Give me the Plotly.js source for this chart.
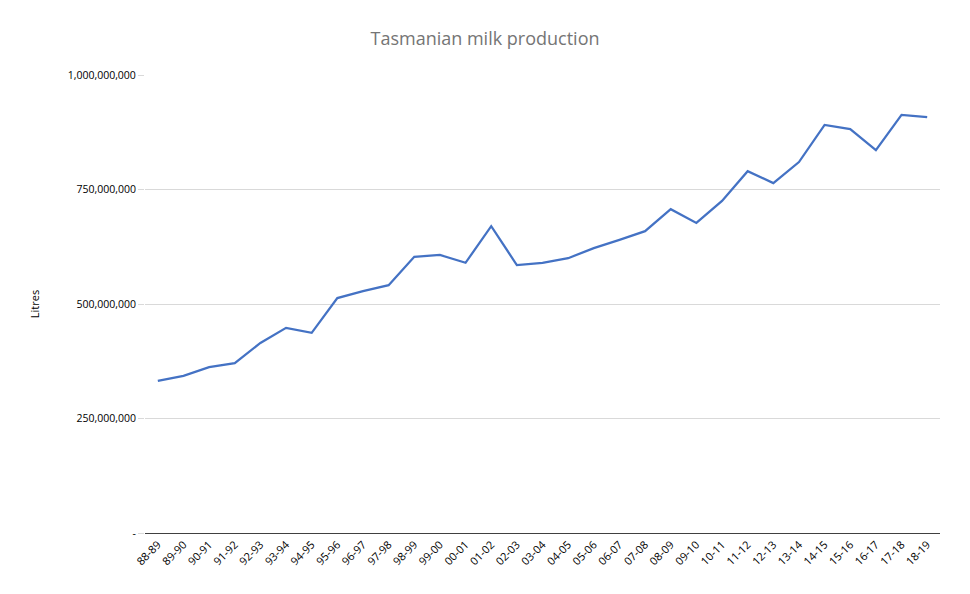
<!DOCTYPE html>
<html>
<head>
<meta charset="utf-8">
<script src="https://cdn.plot.ly/plotly-3.0.1.min.js"></script>
<style>html,body{margin:0;padding:0;background:#fff}#chart{width:970px;height:594px}</style>
</head>
<body>
<div id="chart"></div>
<script>
const seasons = ["88-89","89-90","90-91","91-92","92-93","93-94","94-95","95-96","96-97","97-98","98-99","99-00","00-01","01-02","02-03","03-04","04-05","05-06","06-07","07-08","08-09","09-10","10-11","11-12","12-13","13-14","14-15","15-16","16-17","17-18","18-19"];
const litres = [332e6,343e6,362e6,371e6,415e6,448e6,437e6,513e6,528e6,541e6,603e6,607e6,590e6,670e6,585e6,590e6,600e6,622e6,640e6,659e6,707e6,677e6,725e6,790e6,764e6,810e6,891e6,882e6,836e6,913e6,908e6];
const yTickVals = [0,250e6,500e6,750e6,1000e6];
const yTickText = ["-","250,000,000","500,000,000","750,000,000","1,000,000,000"];

const font = "'Open Sans', 'Liberation Sans', sans-serif";
Plotly.newPlot("chart", [{
  x: seasons, y: litres, type: "scatter", mode: "lines",
  line: {color: "#4472C4", width: 2.25}, hoverinfo: "x+y"
}], {
  width: 970, height: 594,
  margin: {l: 145, r: 30, t: 75, b: 61},
  paper_bgcolor: "#fff", plot_bgcolor: "#fff",
  showlegend: false,
  title: {text: "Tasmanian milk production", x: 0.5, xanchor: "center", y: 0.935, yanchor: "middle",
    font: {family: font, size: 18, color: "#757575"}},
  xaxis: {type: "category", range: [-0.5, 30.5], tickangle: -45, showgrid: false, zeroline: false,
    showline: true, linecolor: "#404040", linewidth: 1, ticks: "",
    tickfont: {family: font, size: 11, color: "#000"}},
  yaxis: {range: [0, 1e9], tickvals: yTickVals, ticktext: yTickText, showgrid: true, gridcolor: "#d9d9d9",
    zeroline: false, ticks: "outside", ticklen: 6, tickcolor: "#d9d9d9", showline: false,
    tickfont: {family: font, size: 10.5, color: "#000"},
    title: {text: "Litres", standoff: 25, font: {family: font, size: 11, color: "#000"}}}
}, {displayModeBar: false});
</script>
</body>
</html>
